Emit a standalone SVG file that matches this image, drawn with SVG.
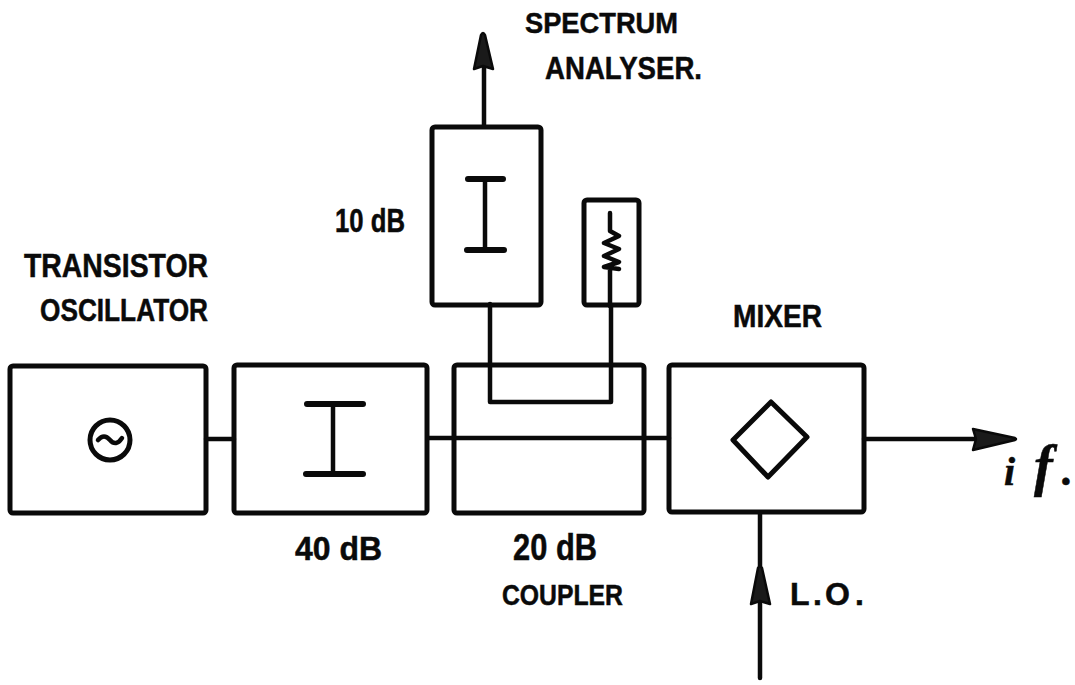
<svg xmlns="http://www.w3.org/2000/svg" width="1075" height="685" viewBox="0 0 1075 685">
<defs>
<style>
.b{fill:none;stroke:#0a0a0a;stroke-width:5;stroke-linejoin:round}
.l{fill:none;stroke:#0a0a0a;stroke-width:4.5;stroke-linecap:round;stroke-linejoin:round}
.t{fill:none;stroke:#0a0a0a;stroke-width:6;stroke-linecap:round}
.a{fill:#1a1a1a;stroke:#0a0a0a;stroke-width:2.5;stroke-linejoin:round}
text{font-family:"Liberation Sans",Arial,sans-serif;font-weight:bold;fill:#0a0a0a;stroke:#0a0a0a;stroke-width:.5}
</style>
</defs>
<rect width="1075" height="685" fill="#fff"/>
<g id="connectors">
<path class="l" d="M206 439H234M428 438H669M864 439H978M760 513V678M484 126V66M490 304V402H611V306"/>
<path class="a" d="M474 69L481 35Q483 31 485 35L493 69L483 66Z"/>
<path class="a" d="M973 429L1015 438Q1017 439 1015 440L973 450L976 439Z"/>
<path class="a" d="M751 604L758 568Q760 565 762 568L770 604L760 601Z"/>
</g>
<g id="oscillator"><rect class="b" x="10" y="366" width="196" height="147" rx="3"/><circle class="l" cx="110" cy="440" r="20" style="stroke-width:5"/><path class="l" d="M98 440Q104 433 110 440T122 438"/><text x="24" y="277" style="font-size:34px" textLength="184" lengthAdjust="spacingAndGlyphs">TRANSISTOR</text><text x="40" y="321" style="font-size:31px" textLength="168" lengthAdjust="spacingAndGlyphs">OSCILLATOR</text></g>
<g id="atten40"><rect class="b" x="234" y="365" width="193" height="148" rx="3"/><path class="l" d="M333 404V474"/><path class="t" d="M307 404H363M306 474H363"/><text x="295" y="560" style="font-size:34px" textLength="87" lengthAdjust="spacingAndGlyphs">40 dB</text></g>
<g id="coupler"><rect class="b" x="454" y="365" width="190" height="148" rx="3"/><text x="513" y="560" style="font-size:36px" textLength="84" lengthAdjust="spacingAndGlyphs">20 dB</text><text x="502" y="605" style="font-size:29px" textLength="121" lengthAdjust="spacingAndGlyphs">COUPLER</text></g>
<g id="mixer"><rect class="b" x="669" y="365" width="195" height="147" rx="3"/><path class="b" d="M771 402L807 437L768 477L733 440Z"/><text x="733" y="327" style="font-size:31px" textLength="89" lengthAdjust="spacingAndGlyphs">MIXER</text></g>
<g id="atten10"><rect class="b" x="432" y="127" width="109" height="178" rx="3"/><path class="l" d="M485 179V250"/><path class="t" d="M468 179H503M467 250H504"/><text x="335" y="232" style="font-size:34px" textLength="70" lengthAdjust="spacingAndGlyphs">10 dB</text></g>
<g id="load"><rect class="b" x="584" y="200" width="55" height="105" rx="3"/><path class="l" d="M610 213V231L619 236L604 243L619 249L604 256L619 262L604 267L619 269M610 268V306"/></g>
<g id="spectrum"><text x="525" y="33" style="font-size:30px" textLength="153" lengthAdjust="spacingAndGlyphs">SPECTRUM</text><text x="545" y="79" style="font-size:32px" textLength="157" lengthAdjust="spacingAndGlyphs">ANALYSER.</text></g>
<g id="if"><text style="font-family:'Liberation Serif',serif;font-style:italic" y="485"><tspan x="1004" style="font-size:40px">i</tspan><tspan x="1034" style="font-size:56px">f</tspan><tspan x="1062" style="font-size:44px">.</tspan></text></g>
<g id="lo"><text style="font-size:32px" y="605"><tspan x="790">L</tspan><tspan x="813">.</tspan><tspan x="825">O</tspan><tspan x="855">.</tspan></text></g>
</svg>
